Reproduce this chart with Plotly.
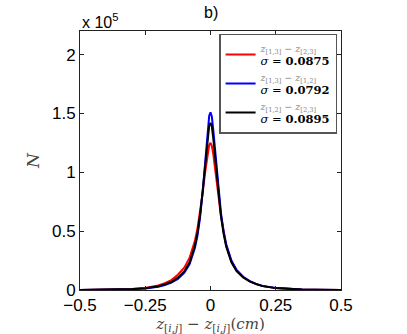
import plotly.graph_objects as go

# x positions (cm)
x = [-0.5, -0.45, -0.4, -0.35, -0.3, -0.25, -0.2, -0.175, -0.15, -0.125, -0.1, -0.08,
     -0.06, -0.05, -0.04, -0.03, -0.02, -0.01, -0.005, 0.0, 0.005, 0.01, 0.02, 0.03, 0.04, 0.05, 0.06,
     0.08, 0.1, 0.125, 0.15, 0.175, 0.2, 0.25, 0.3, 0.35, 0.4, 0.45, 0.5]

# counts (N)
red = [100, 200, 300, 500, 900, 1800, 3800, 5800, 8400, 13000, 19200, 27500,
       41500, 52000, 65500, 82500, 101000, 117000, 123000, 125000, 122500, 116500, 100500, 81000, 63000, 49000, 38000,
       24500, 16500, 11000, 7500, 5000, 3300, 1600, 800, 450, 250, 150, 100]
blue = [100, 150, 250, 400, 700, 1300, 2800, 4300, 6300, 9500, 14800, 22000,
        35500, 46000, 61500, 83500, 111000, 137000, 148000, 151000, 147500, 137500, 113000, 86000, 65500, 50000, 39000,
        25000, 17000, 11200, 7600, 5200, 3500, 1700, 850, 450, 250, 150, 100]
black = [100, 150, 250, 450, 800, 1500, 3200, 4800, 6800, 10500, 16000, 23500,
         37500, 48500, 63500, 84000, 108000, 130500, 139500, 142000, 139000, 130000, 107500, 83500, 63000, 48000, 37000,
         23500, 16000, 10600, 7300, 5000, 3300, 1600, 800, 450, 250, 150, 100]

names = [
    "<span style='color:#888;font-size:9.5px'><i>z</i><sub>[1,3]</sub> − <i>z</i><sub>[2,3]</sub></span><br><span style='font-size:11.5px'><i>σ</i> = <b>0.0875</b></span>",
    "<span style='color:#888;font-size:9.5px'><i>z</i><sub>[1,3]</sub> − <i>z</i><sub>[1,2]</sub></span><br><span style='font-size:11.5px'><i>σ</i> = <b>0.0792</b></span>",
    "<span style='color:#888;font-size:9.5px'><i>z</i><sub>[1,2]</sub> − <i>z</i><sub>[2,3]</sub></span><br><span style='font-size:11.5px'><i>σ</i> = <b>0.0895</b></span>",
]
colors = ["#ff0000", "#0000ff", "#000000"]

yticks = [0, 50000, 100000, 150000, 200000]
yticktext = ["0", "0.5", "1", "1.5", "2"]
xticks = [-0.5, -0.25, 0, 0.25, 0.5]
xticktext = ["−0.5", "−0.25", "0", "0.25", "0.5"]

fig = go.Figure()
for ys, nm, c in zip([red, blue, black], names, colors):
    fig.add_trace(go.Scatter(x=x, y=ys, mode="lines", name=nm,
                             line=dict(color=c, width=2)))

axis_common = dict(showline=True, linecolor="#222", linewidth=1, mirror="ticks",
                   ticks="inside", ticklen=4, tickcolor="#222", showgrid=False, zeroline=False,
                   automargin=False,
                   tickfont=dict(family="Liberation Sans, Arial", size=17, color="#000"))

fig.update_layout(
    width=407, height=334,
    margin=dict(l=80, r=66, t=31, b=44),
    paper_bgcolor="white", plot_bgcolor="white",
    showlegend=True,
    legend=dict(x=0.985, y=0.99, xanchor="right", yanchor="top",
                bordercolor="#555", borderwidth=1.5, bgcolor="white",
                font=dict(family="DejaVu Serif, Liberation Serif", size=10, color="#000"),
                tracegroupgap=0, itemwidth=30),
    xaxis=dict(range=[-0.5, 0.5], tickvals=xticks, ticktext=xticktext,
               title=dict(text="<i>z</i><sub>[<i>i,j</i>]</sub> − <i>z</i><sub>[<i>i,j</i>]</sub>(<i>cm</i>)",
                          font=dict(family="DejaVu Serif, Liberation Serif", size=15, color="#444"),
                          standoff=0),
               **axis_common),
    yaxis=dict(range=[0, 220000], tickvals=yticks, ticktext=yticktext,
               title=dict(text="<i>N</i>",
                          font=dict(family="DejaVu Serif, Liberation Serif", size=17, color="#444"),
                          standoff=8),
               **axis_common),
    annotations=[
        dict(text="x 10<sup>5</sup>", xref="paper", yref="paper", x=0.0, y=1.0,
             xanchor="left", yanchor="bottom", showarrow=False, yshift=-2,
             font=dict(family="Liberation Sans, Arial", size=16, color="#000")),
        dict(text="b)", xref="paper", yref="paper", x=0.5, y=1.0,
             xanchor="center", yanchor="bottom", showarrow=False, yshift=8,
             font=dict(family="Liberation Sans, Arial", size=16, color="#000")),
    ],
)

fig.write_html("out.html", config={"displayModeBar": False},
               post_script="document.body.style.margin='0';document.body.style.overflow='hidden';")
